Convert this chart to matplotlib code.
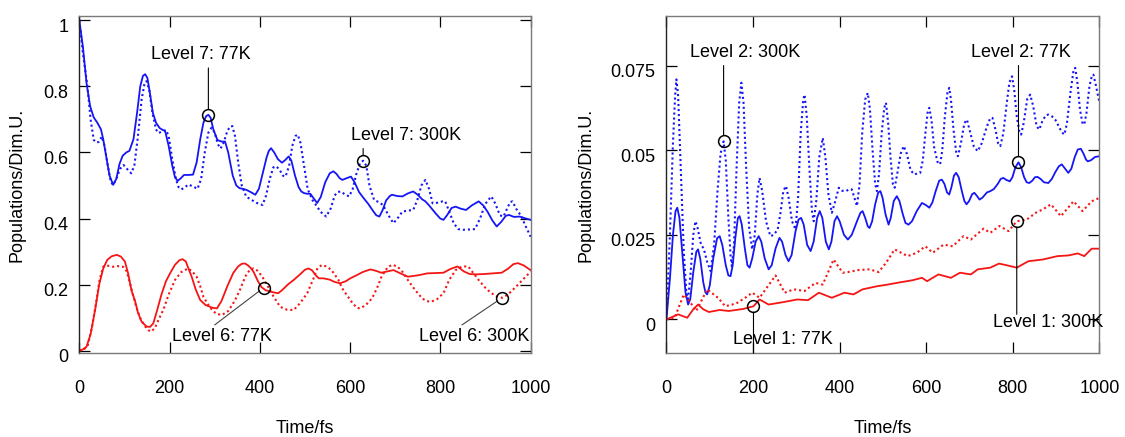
import matplotlib
matplotlib.use("Agg")
import matplotlib.pyplot as plt
from matplotlib.transforms import ScaledTranslation

plt.rcParams['font.family'] = ['Liberation Sans', 'DejaVu Sans']
plt.rcParams['font.size'] = 13

# Populations sampled along time (fs) as (time, population) pairs.

# ---------------- left panel: levels 6 and 7 ----------------
level7_77K = [
    (0, 1.0), (8, 0.92), (16, 0.81), (24, 0.74), (32, 0.706), (40, 0.69), (48, 0.67), (53, 0.64),
    (60, 0.585), (67, 0.53), (75, 0.502), (82, 0.52), (89, 0.565), (96, 0.59), (104, 0.6), (111, 0.605),
    (120, 0.64), (128, 0.72), (135, 0.80), (141, 0.832), (146, 0.837), (151, 0.825), (157, 0.775),
    (163, 0.72), (170, 0.69), (178, 0.674), (185, 0.668), (190, 0.666), (198, 0.62), (206, 0.56),
    (212, 0.525), (218, 0.514), (225, 0.522), (232, 0.532), (242, 0.532), (252, 0.533), (260, 0.57),
    (268, 0.64), (275, 0.69), (281, 0.71), (286, 0.714), (291, 0.705), (297, 0.67), (306, 0.638),
    (315, 0.633), (323, 0.633), (330, 0.60), (340, 0.53), (348, 0.5), (355, 0.492), (362, 0.49),
    (370, 0.487), (380, 0.48), (390, 0.472), (398, 0.49), (407, 0.54), (415, 0.585), (420, 0.605),
    (425, 0.613), (432, 0.6), (440, 0.58), (449, 0.569), (457, 0.578), (464, 0.588), (470, 0.575),
    (478, 0.53), (486, 0.495), (492, 0.482), (498, 0.477), (505, 0.475), (512, 0.475), (520, 0.46),
    (527, 0.447), (535, 0.465), (545, 0.51), (555, 0.537), (563, 0.543), (570, 0.535), (577, 0.522),
    (583, 0.517), (592, 0.522), (602, 0.527), (610, 0.51), (620, 0.48), (630, 0.462), (640, 0.445),
    (650, 0.425), (658, 0.41), (665, 0.406), (672, 0.425), (680, 0.455), (688, 0.468), (693, 0.472),
    (705, 0.468), (716, 0.467), (728, 0.476), (740, 0.482), (750, 0.472), (760, 0.458), (767, 0.452),
    (775, 0.44), (790, 0.415), (800, 0.4), (807, 0.396), (815, 0.41), (825, 0.432), (834, 0.436),
    (845, 0.43), (857, 0.426), (870, 0.44), (885, 0.452), (895, 0.44), (905, 0.42), (915, 0.395),
    (925, 0.376), (935, 0.39), (945, 0.408), (952, 0.411), (963, 0.405), (976, 0.406), (990, 0.4),
    (1000, 0.396),
]

level7_300K = [
    (0, 1.0), (8, 0.9), (18, 0.80), (25, 0.7), (32, 0.638), (38, 0.63), (43, 0.632), (50, 0.648),
    (56, 0.62), (63, 0.56), (70, 0.51), (75, 0.502), (82, 0.52), (90, 0.55), (98, 0.562), (106, 0.55),
    (115, 0.537), (122, 0.56), (130, 0.65), (138, 0.76), (144, 0.805), (149, 0.816), (155, 0.79),
    (162, 0.72), (170, 0.67), (175, 0.659), (181, 0.662), (186, 0.664), (192, 0.668), (198, 0.65),
    (206, 0.58), (214, 0.52), (220, 0.495), (226, 0.488), (234, 0.495), (242, 0.503), (252, 0.497),
    (262, 0.49), (270, 0.52), (278, 0.6), (286, 0.66), (293, 0.675), (300, 0.66), (307, 0.625),
    (313, 0.612), (320, 0.63), (328, 0.665), (334, 0.678), (339, 0.68), (345, 0.65), (352, 0.57),
    (360, 0.5), (370, 0.466), (380, 0.458), (392, 0.448), (406, 0.441), (414, 0.47), (422, 0.52),
    (430, 0.555), (437, 0.558), (445, 0.545), (451, 0.53), (457, 0.527), (465, 0.56), (472, 0.62),
    (479, 0.65), (484, 0.654), (490, 0.63), (498, 0.56), (506, 0.49), (516, 0.457), (525, 0.44),
    (535, 0.42), (547, 0.406), (557, 0.43), (566, 0.47), (572, 0.48), (579, 0.482), (590, 0.472),
    (598, 0.467), (606, 0.49), (614, 0.535), (622, 0.567), (629, 0.575), (636, 0.56), (643, 0.5),
    (653, 0.457), (663, 0.45), (673, 0.441), (685, 0.41), (696, 0.386), (705, 0.4), (716, 0.421),
    (728, 0.424), (740, 0.426), (750, 0.46), (758, 0.5), (767, 0.517), (775, 0.49), (783, 0.446),
    (795, 0.448), (805, 0.452), (811, 0.452), (820, 0.42), (830, 0.385), (840, 0.368), (850, 0.366),
    (865, 0.367), (877, 0.368), (888, 0.4), (900, 0.445), (913, 0.467), (922, 0.445), (932, 0.41),
    (940, 0.406), (948, 0.43), (955, 0.45), (960, 0.452), (968, 0.43), (980, 0.406), (988, 0.38),
    (995, 0.36), (1000, 0.345),
]

level6_77K = [
    (0, 0.0), (8, 0.004), (16, 0.012), (25, 0.05), (35, 0.123), (44, 0.2), (53, 0.249), (62, 0.275),
    (72, 0.286), (83, 0.29), (92, 0.285), (101, 0.27), (108, 0.235), (116, 0.18), (123, 0.153),
    (130, 0.115), (138, 0.088), (149, 0.073), (157, 0.072), (164, 0.083), (172, 0.12), (182, 0.17),
    (192, 0.21), (201, 0.234), (212, 0.26), (222, 0.274), (229, 0.277), (236, 0.27), (243, 0.245),
    (249, 0.224), (258, 0.185), (268, 0.153), (280, 0.138), (295, 0.13), (305, 0.128), (315, 0.15),
    (328, 0.195), (341, 0.235), (352, 0.255), (360, 0.263), (367, 0.264), (374, 0.258), (380, 0.25),
    (386, 0.239), (396, 0.21), (404, 0.192), (413, 0.183), (423, 0.179), (432, 0.176), (441, 0.174),
    (450, 0.184), (462, 0.2), (475, 0.214), (490, 0.232), (500, 0.245), (508, 0.249), (516, 0.243),
    (524, 0.228), (531, 0.219), (541, 0.219), (555, 0.215), (566, 0.208), (578, 0.204), (590, 0.21),
    (602, 0.22), (614, 0.228), (628, 0.238), (645, 0.246), (657, 0.242), (669, 0.236), (683, 0.24),
    (696, 0.244), (710, 0.235), (728, 0.224), (750, 0.228), (771, 0.234), (790, 0.235), (807, 0.236),
    (822, 0.247), (838, 0.255), (852, 0.24), (865, 0.232), (880, 0.231), (897, 0.232), (916, 0.234),
    (936, 0.236), (950, 0.248), (962, 0.262), (972, 0.265), (985, 0.258), (1000, 0.244),
]

level6_300K = [
    (0, 0.0), (10, 0.004), (18, 0.012), (28, 0.07), (38, 0.153), (45, 0.215), (53, 0.254), (60, 0.258),
    (68, 0.256), (75, 0.254), (85, 0.256), (97, 0.254), (105, 0.24), (115, 0.19), (126, 0.133),
    (136, 0.095), (146, 0.073), (153, 0.062), (160, 0.058), (168, 0.07), (176, 0.095), (186, 0.123),
    (198, 0.17), (212, 0.214), (226, 0.238), (241, 0.249), (250, 0.24), (260, 0.224), (268, 0.195),
    (275, 0.163), (290, 0.13), (303, 0.112), (316, 0.108), (330, 0.12), (344, 0.15), (356, 0.184),
    (368, 0.225), (378, 0.245), (386, 0.249), (395, 0.242), (405, 0.225), (416, 0.199), (430, 0.165),
    (445, 0.133), (460, 0.124), (475, 0.123), (490, 0.145), (505, 0.174), (518, 0.215), (528, 0.25),
    (537, 0.259), (548, 0.255), (559, 0.244), (574, 0.215), (582, 0.19), (590, 0.174), (605, 0.145),
    (615, 0.13), (622, 0.128), (635, 0.138), (649, 0.159), (660, 0.19), (670, 0.225), (683, 0.252),
    (693, 0.26), (705, 0.255), (716, 0.239), (730, 0.21), (744, 0.184), (760, 0.158), (770, 0.15),
    (779, 0.148), (792, 0.155), (807, 0.174), (820, 0.215), (834, 0.244), (848, 0.255), (862, 0.255),
    (873, 0.235), (885, 0.214), (900, 0.19), (913, 0.174), (925, 0.165), (937, 0.16), (950, 0.17),
    (968, 0.194), (985, 0.218), (1000, 0.239),
]

# ---------------- right panel: levels 1 and 2 ----------------
level2_300K = [
    (0, 0.0), (8, 0.025), (15, 0.052), (20, 0.066), (23, 0.0709), (27, 0.066), (33, 0.045), (40, 0.02),
    (46, 0.008), (50, 0.006), (56, 0.014), (62, 0.025), (67, 0.029), (72, 0.027), (80, 0.022),
    (86, 0.021), (94, 0.017), (102, 0.0143), (110, 0.022), (118, 0.038), (125, 0.049), (132, 0.0526),
    (137, 0.047), (143, 0.03), (148, 0.019), (151, 0.0157), (156, 0.022), (162, 0.045), (168, 0.064),
    (173, 0.0699), (178, 0.064), (184, 0.045), (191, 0.027), (198, 0.0207), (204, 0.025), (210, 0.037),
    (215, 0.0418), (221, 0.038), (230, 0.029), (240, 0.0246), (248, 0.025), (257, 0.0266), (264, 0.032),
    (270, 0.038), (276, 0.0394), (282, 0.036), (290, 0.029), (298, 0.0266), (304, 0.036), (310, 0.055),
    (316, 0.065), (319, 0.0664), (324, 0.06), (330, 0.045), (336, 0.032), (340, 0.029), (346, 0.035),
    (353, 0.048), (361, 0.0536), (367, 0.048), (374, 0.037), (382, 0.0315), (390, 0.035), (398, 0.0389),
    (406, 0.038), (415, 0.0379), (422, 0.0385), (428, 0.0384), (434, 0.036), (440, 0.0335), (446, 0.04),
    (452, 0.055), (459, 0.065), (465, 0.0669), (470, 0.062), (476, 0.05), (482, 0.04), (486, 0.0379),
    (491, 0.043), (497, 0.055), (503, 0.0625), (507, 0.064), (512, 0.058), (518, 0.047), (523, 0.04),
    (527, 0.0389), (533, 0.043), (541, 0.049), (548, 0.0512), (555, 0.049), (564, 0.044), (573, 0.0428),
    (580, 0.0432), (586, 0.0433), (592, 0.047), (598, 0.055), (603, 0.061), (607, 0.0625), (612, 0.059),
    (618, 0.051), (626, 0.0465), (632, 0.0458), (637, 0.05), (643, 0.06), (649, 0.067), (653, 0.0684),
    (657, 0.065), (663, 0.056), (669, 0.0495), (673, 0.0482), (680, 0.052), (688, 0.058), (694, 0.059),
    (700, 0.056), (710, 0.051), (719, 0.0497), (728, 0.052), (740, 0.057), (748, 0.0595), (753, 0.0595),
    (760, 0.056), (766, 0.052), (771, 0.0512), (778, 0.055), (786, 0.064), (792, 0.070), (798, 0.0718),
    (803, 0.068), (809, 0.06), (815, 0.0555), (819, 0.0546), (825, 0.058), (833, 0.065), (840, 0.0664),
    (847, 0.063), (855, 0.057), (861, 0.0561), (868, 0.0585), (876, 0.0603), (882, 0.0605), (890, 0.06),
    (898, 0.059), (906, 0.057), (913, 0.0553), (919, 0.0546), (925, 0.058), (933, 0.067), (940, 0.0735),
    (944, 0.0743), (949, 0.07), (955, 0.062), (961, 0.0578), (965, 0.0576), (970, 0.061), (977, 0.069),
    (983, 0.0722), (986, 0.0723), (992, 0.069), (1000, 0.064),
]

level2_77K = [
    (0, 0.0), (8, 0.012), (15, 0.025), (21, 0.032), (25, 0.033), (30, 0.030), (37, 0.019), (44, 0.008),
    (50, 0.0044), (55, 0.006), (62, 0.014), (69, 0.020), (73, 0.0207), (78, 0.018), (85, 0.011),
    (90, 0.008), (94, 0.0074), (100, 0.01), (108, 0.018), (117, 0.024), (123, 0.0246), (129, 0.022),
    (137, 0.016), (143, 0.013), (148, 0.0128), (153, 0.016), (159, 0.024), (165, 0.030), (169, 0.0305),
    (174, 0.028), (181, 0.021), (187, 0.016), (192, 0.0153), (198, 0.018), (206, 0.023), (213, 0.0246),
    (219, 0.023), (227, 0.018), (236, 0.0148), (243, 0.016), (252, 0.021), (261, 0.0241), (267, 0.023),
    (275, 0.019), (282, 0.0172), (289, 0.019), (298, 0.026), (305, 0.0295), (311, 0.030), (317, 0.028),
    (325, 0.022), (333, 0.0202), (340, 0.023), (348, 0.030), (354, 0.032), (360, 0.030), (368, 0.023),
    (375, 0.0207), (381, 0.023), (388, 0.029), (394, 0.0305), (400, 0.029), (410, 0.025), (419, 0.0236),
    (428, 0.025), (440, 0.029), (448, 0.0315), (453, 0.032), (459, 0.030), (465, 0.0275), (469, 0.027),
    (475, 0.029), (482, 0.034), (489, 0.0375), (494, 0.0379), (499, 0.036), (506, 0.031), (513, 0.028),
    (518, 0.030), (525, 0.035), (532, 0.0364), (538, 0.035), (546, 0.031), (552, 0.0285), (559, 0.028),
    (567, 0.029), (578, 0.032), (590, 0.0344), (599, 0.0338), (607, 0.033), (614, 0.0345), (622, 0.038),
    (630, 0.041), (636, 0.0413), (642, 0.040), (648, 0.0375), (653, 0.0369), (658, 0.039), (664, 0.0425),
    (669, 0.0433), (675, 0.042), (682, 0.038), (688, 0.035), (693, 0.034), (699, 0.035), (706, 0.037),
    (711, 0.0374), (717, 0.0365), (723, 0.0354), (730, 0.036), (740, 0.0375), (748, 0.0379),
    (756, 0.0385), (765, 0.040), (772, 0.0415), (778, 0.0418), (785, 0.0412), (793, 0.0408),
    (799, 0.042), (806, 0.045), (813, 0.0464), (819, 0.045), (826, 0.042), (832, 0.0405), (838, 0.0403),
    (845, 0.041), (851, 0.042), (857, 0.0421), (864, 0.0415), (872, 0.0405), (882, 0.0403), (890, 0.0415),
    (898, 0.0435), (906, 0.0452), (913, 0.0458), (919, 0.0448), (928, 0.0433), (935, 0.0445),
    (943, 0.048), (950, 0.0502), (957, 0.0504), (963, 0.049), (969, 0.0472), (973, 0.0467), (980, 0.047),
    (990, 0.048), (1000, 0.0482),
]

level1_77K = [
    (0, 0.0), (27, 0.0015), (48, 0.0005), (62, 0.003), (73, 0.0044), (85, 0.003), (98, 0.0022),
    (123, 0.0028), (144, 0.0025), (177, 0.0031), (201, 0.0039), (215, 0.0059), (236, 0.0044),
    (269, 0.0051), (302, 0.0059), (327, 0.0057), (352, 0.0079), (382, 0.0064), (411, 0.0079),
    (432, 0.0074), (453, 0.0089), (486, 0.0098), (511, 0.0103), (532, 0.0108), (569, 0.0116),
    (590, 0.0123), (602, 0.0113), (628, 0.0133), (657, 0.0123), (678, 0.0138), (703, 0.0133),
    (719, 0.0148), (748, 0.0153), (768, 0.0165), (786, 0.016), (809, 0.0153), (836, 0.0172),
    (869, 0.0177), (903, 0.0187), (928, 0.0189), (950, 0.0195), (965, 0.0187), (982, 0.0209),
    (1000, 0.0209),
]

level1_300K = [
    (0, 0.0), (19, 0.0005), (40, 0.0074), (53, 0.0054), (69, 0.0025), (94, 0.0089), (119, 0.0064),
    (136, 0.0039), (161, 0.0047), (182, 0.0064), (198, 0.0079), (215, 0.0064), (252, 0.013),
    (273, 0.0079), (294, 0.0089), (319, 0.0084), (344, 0.0108), (361, 0.0103), (386, 0.0177),
    (407, 0.0138), (419, 0.014), (444, 0.0146), (469, 0.0148), (490, 0.014), (507, 0.0167),
    (527, 0.0207), (557, 0.0187), (578, 0.0197), (598, 0.0216), (615, 0.0197), (640, 0.0221),
    (661, 0.0216), (686, 0.0246), (703, 0.0236), (732, 0.0268), (748, 0.0256), (769, 0.0276),
    (790, 0.0261), (809, 0.029), (832, 0.0295), (853, 0.0315), (869, 0.0325), (888, 0.034),
    (911, 0.0305), (940, 0.0349), (961, 0.032), (982, 0.0349), (1000, 0.0359),
]

left_yticks = [0, 0.2, 0.4, 0.6, 0.8, 1.0]
left_ylabels = ["0", "0.2", "0.4", "0.6", "0.8", "1"]
right_yticks = [0, 0.025, 0.05, 0.075]
right_ylabels = ["0", "0.025", "0.05", "0.075"]
xticks = [0, 200, 400, 600, 800, 1000]

BLUE = "#1515f5"
RED = "#f51515"
DOT = (0, (1.0, 1.4))

fig = plt.figure(figsize=(11.25, 4.37), dpi=100)
ax1 = fig.add_axes([0.0705, 0.1915, 0.4011, 0.7725])
ax2 = fig.add_axes([0.5924, 0.1915, 0.3849, 0.7725])


def curve(ax, pairs, color, dotted=False):
    t, v = zip(*pairs)
    if dotted:
        ax.plot(t, v, color=color, lw=1.5, ls=DOT)
    else:
        ax.plot(t, v, color=color, lw=1.3)


def style_axes(ax, yticks, ylabels, ylim, ylab_x):
    ax.set_xlim(0, 1000)
    ax.set_ylim(*ylim)
    ax.set_xticks(xticks)
    ax.set_yticks(yticks, ylabels)
    ax.tick_params(direction="in", length=8, width=0.9, top=True, right=True, color="black")
    ax.tick_params(axis="x", pad=19)
    ax.tick_params(axis="y", pad=8)
    # y tick labels sit slightly below their ticks
    shift = ScaledTranslation(0, -5 / 100, fig.dpi_scale_trans)
    for lab in ax.get_yticklabels():
        lab.set_transform(lab.get_transform() + shift)
    for side in ("top", "right", "bottom"):
        ax.spines[side].set_color("#7a7a7a")
        ax.spines[side].set_linewidth(1.0)
    ax.spines["left"].set_color("#222222")
    ax.spines["left"].set_linewidth(1.0)
    ax.set_xlabel("Time/fs")
    ax.set_ylabel("Populations/Dim.U.")
    ax.xaxis.set_label_coords(0.5, -0.198)
    ax.yaxis.set_label_coords(ylab_x, 0.5)


def mark(ax, pt, end, text_xy, line_color="black"):
    ax.annotate("", xy=pt, xytext=end,
                arrowprops=dict(arrowstyle="-", shrinkA=0, shrinkB=4.2, color=line_color, lw=0.8))
    ax.plot([pt[0]], [pt[1]], marker="o", ms=8.5, mfc="none", mec="black", mew=1.1, zorder=5,
            clip_on=False)
    ax.text(text_xy[0], text_xy[1], text_xy[2], ha="center", va="center", clip_on=False, zorder=6)


# left panel
curve(ax1, level7_77K, BLUE)
curve(ax1, level7_300K, BLUE, dotted=True)
curve(ax1, level6_77K, RED)
curve(ax1, level6_300K, RED, dotted=True)
style_axes(ax1, left_yticks, left_ylabels, (-0.008, 1.014), -0.119)

mark(ax1, (286, 0.714), (286, 0.856), (270, 0.896, "Level 7: 77K"))
mark(ax1, (629, 0.575), (629, 0.612), (725, 0.652, "Level 7: 300K"))
mark(ax1, (409, 0.191), (300, 0.078), (315, 0.044, "Level 6: 77K"), line_color="#444444")
mark(ax1, (937, 0.160), (848, 0.078), (875, 0.044, "Level 6: 300K"), line_color="#444444")

# right panel
curve(ax2, level2_300K, BLUE, dotted=True)
curve(ax2, level2_77K, BLUE)
curve(ax2, level1_300K, RED, dotted=True)
curve(ax2, level1_77K, RED)
style_axes(ax2, right_yticks, right_ylabels, (-0.01, 0.0897), -0.167)

mark(ax2, (132, 0.0526), (132, 0.075), (182, 0.0789, "Level 2: 300K"))
mark(ax2, (813, 0.0464), (813, 0.075), (819, 0.0789, "Level 2: 77K"))
mark(ax2, (201, 0.0039), (201, -0.01), (269, -0.0059, "Level 1: 77K"))
mark(ax2, (809, 0.029), (809, 0.0015), (882, -0.0008, "Level 1: 300K"))

fig.savefig("out.png", dpi=100)
